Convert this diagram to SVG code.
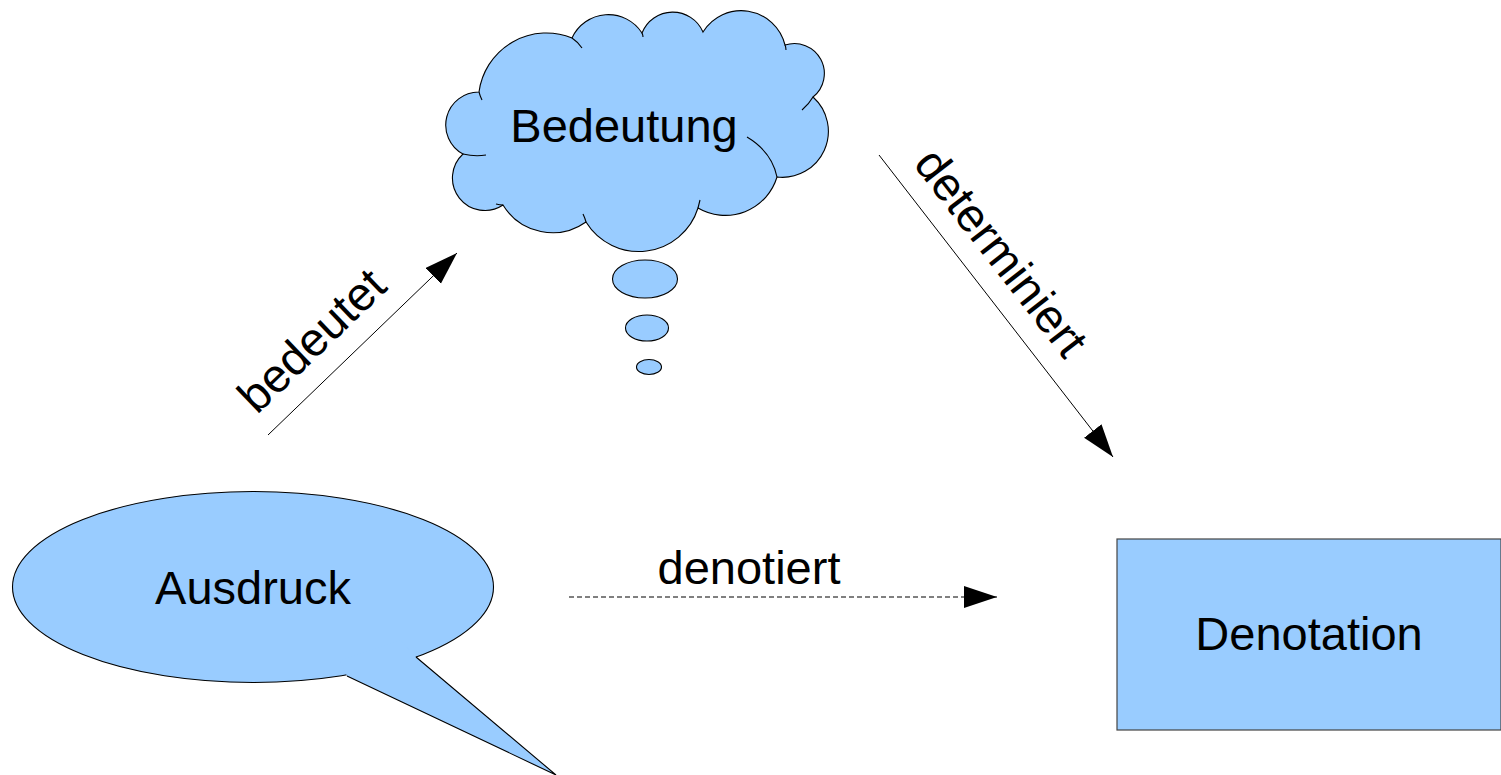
<svg xmlns="http://www.w3.org/2000/svg" width="1501" height="775" viewBox="0 0 1501 775">
<style>
.shape{fill:#99ccff;stroke:#000;stroke-width:1.1}
.tail{fill:none;stroke:#000;stroke-width:1.1}
.lbl{font-family:"Liberation Sans",Arial,sans-serif;font-size:47px;fill:#000;text-anchor:middle}
.conn{stroke:#000;stroke-width:1;fill:none}
</style>
<defs>
<marker id="ah" markerUnits="userSpaceOnUse" markerWidth="34" markerHeight="24" refX="33" refY="11" orient="auto">
<path d="M0,0 L33,11 L0,22 Z" fill="#000"/>
</marker>
</defs>
<rect width="1501" height="775" fill="#fff"/>
<g id="bedeutung">
<path class="shape" d="M479,92 A68,68 0 0 1 572,38 A40,40 0 0 1 642,33 A33,33 0 0 1 703,32 A45,45 0 0 1 785,45 A30,30 0 0 1 813,97 A46,46 0 0 1 777,177 A54,54 0 0 1 698,208 A62,62 0 0 1 586,222 A58,58 0 0 1 503,205 A32.5,32.5 0 0 1 463,154 A33,33 0 0 1 479,92 Z"/>
<path class="tail" d="M479,92 Q480,96 482,100 M572,38 Q578,42 582,48 M642,33 Q643,35 643,37 M785,45 Q786,47 786,50 M813,97 Q809,104 802,110 M747,137 Q772,152 777,177 M698,208 Q699,204 700,200 M586,222 Q585,218 583,214 M503,205 Q500,205 496,204 M463,154 Q475,157 486,155"/>
<ellipse class="shape" cx="645" cy="279" rx="32.5" ry="19"/>
<ellipse class="shape" cx="647" cy="328" rx="21.5" ry="13"/>
<ellipse class="shape" cx="649" cy="367" rx="12.5" ry="7.5"/>
<text class="lbl" x="624" y="142">Bedeutung</text>
</g>
<g id="ausdruck">
<ellipse class="shape" cx="253" cy="587" rx="240.5" ry="95.5"/>
<path d="M347,676 L556,775 L416,657 L400,640 L340,660 Z" fill="#99ccff"/>
<path class="tail" d="M416,657 L556,775 L347,676"/>
<text class="lbl" x="253" y="604">Ausdruck</text>
</g>
<g id="denotation">
<rect x="1117" y="539" width="384" height="191" fill="#99ccff" stroke="#444" stroke-width="1.2"/>
<text class="lbl" x="1309" y="650">Denotation</text>
</g>
<g id="connectors">
<line class="conn" x1="268" y1="435" x2="457" y2="253" marker-end="url(#ah)"/>
<line class="conn" x1="879" y1="155" x2="1113" y2="457" marker-end="url(#ah)"/>
<line class="conn" x1="569" y1="597" x2="997" y2="597" stroke-dasharray="5,3" stroke="#222" marker-end="url(#ah)"/>
<text class="lbl" x="322.8" y="352" transform="rotate(-43.8 322.8 352)">bedeutet</text>
<text class="lbl" x="988.6" y="262.3" transform="rotate(52.2 988.6 262.3)">determiniert</text>
<text class="lbl" x="749" y="584">denotiert</text>
</g>
</svg>
